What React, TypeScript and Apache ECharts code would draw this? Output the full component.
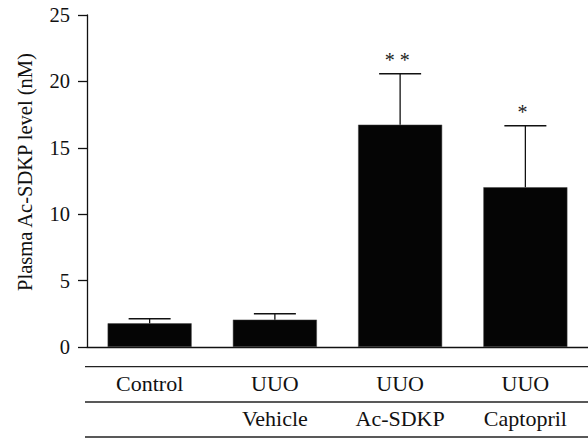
import React, { useEffect, useRef } from "react";
import * as echarts from "echarts";

const groups = ["Control", "UUO", "UUO", "UUO"];
const treatments = ["", "Vehicle", "Ac-SDKP", "Captopril"];
const means = [1.78, 2.06, 16.74, 12.03];
const errors = [0.35, 0.45, 3.84, 4.63];
const significance = ["", "", "* *", "*"];
const yMin = 0;
const yMax = 25;
const yInterval = 5;

const FONT = "Liberation Serif";

export default function App() {
  const ref = useRef<HTMLDivElement>(null);
  useEffect(() => {
    if (!ref.current) return;
    const chart = echarts.init(ref.current, undefined, { renderer: "svg" });
    const catLabels = groups.map((g, i) => g + "\n" + (treatments[i] || " "));
    const errData = means.map((m, i) => [i, m, m + errors[i]]);
    chart.setOption({
      animation: false,
      backgroundColor: "#ffffff",
      textStyle: { fontFamily: FONT },
      grid: { left: 87, right: 0, top: 15, bottom: 91, containLabel: false },
      xAxis: {
        type: "category",
        data: catLabels,
        axisLine: { lineStyle: { color: "#111", width: 1.3 } },
        axisTick: { alignWithLabel: true, length: 10, lineStyle: { color: "#111", width: 1.3 } },
        axisLabel: {
          margin: 19,
          color: "#111",
          fontFamily: FONT,
          fontSize: 22,
          lineHeight: 35,
          interval: 0,
        },
        splitLine: { show: false },
      },
      yAxis: {
        type: "value",
        min: yMin,
        max: yMax,
        interval: yInterval,
        name: "Plasma Ac-SDKP level (nM)",
        nameLocation: "middle",
        nameGap: 52,
        nameRotate: 90,
        nameTextStyle: {
          color: "#111",
          fontFamily: FONT,
          fontSize: 20.5,
          padding: [0, 0, 0, 18],
        },
        axisLine: { show: true, lineStyle: { color: "#111", width: 1.3 } },
        axisTick: { show: true, length: 9, lineStyle: { color: "#111", width: 1.3 } },
        axisLabel: { margin: 17, color: "#111", fontFamily: FONT, fontSize: 20.5 },
        splitLine: { show: false },
      },
      series: [
        {
          type: "bar",
          data: means,
          barWidth: 84,
          itemStyle: { color: "#050505", borderColor: "#444", borderWidth: 0.5 },
        },
        {
          type: "custom",
          data: errData,
          encode: { x: 0, y: [1, 2] },
          z: 3,
          renderItem: (params: any, api: any) => {
            const i = api.value(0);
            const base = api.coord([i, api.value(1)]);
            const top = api.coord([i, api.value(2)]);
            const half = 21;
            const children: any[] = [
              {
                type: "line",
                shape: { x1: base[0], y1: base[1], x2: top[0], y2: top[1] },
                style: { stroke: "#111", lineWidth: 1.3 },
              },
              {
                type: "line",
                shape: { x1: top[0] - half, y1: top[1], x2: top[0] + half, y2: top[1] },
                style: { stroke: "#111", lineWidth: 1.5 },
              },
            ];
            const sig = significance[params.dataIndex];
            if (sig) {
              children.push({
                type: "text",
                x: top[0] - 3,
                y: top[1] - 14,
                style: {
                  text: sig,
                  fill: "#222",
                  fontFamily: FONT,
                  fontSize: 20,
                  align: "center",
                  verticalAlign: "middle",
                },
              });
            }
            return { type: "group", children };
          },
        },
      ],
      graphic: [
        { type: "line", shape: { x1: 85, y1: 366.7, x2: 588, y2: 366.7 }, style: { stroke: "#222", lineWidth: 1.3 } },
        { type: "line", shape: { x1: 85, y1: 402, x2: 588, y2: 402 }, style: { stroke: "#222", lineWidth: 1.3 } },
        { type: "line", shape: { x1: 85, y1: 437, x2: 588, y2: 437 }, style: { stroke: "#222", lineWidth: 1.3 } },
      ],
    });
    return () => chart.dispose();
  }, []);
  return (
    <div
      ref={ref}
      style={{ position: "absolute", left: 0, top: 0, width: 588, height: 438 }}
    />
  );
}
